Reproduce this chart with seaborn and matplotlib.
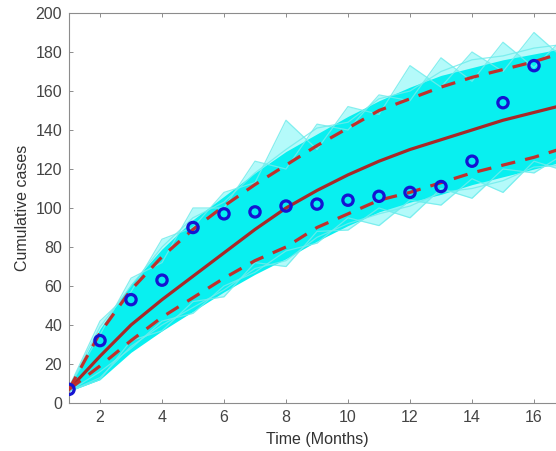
import matplotlib
matplotlib.use("Agg")
import matplotlib.pyplot as plt
import seaborn as sns

# months of the simulation
months = list(range(1, 18))

# observed cumulative cases (blue circles)
obs_months = list(range(1, 17))
observed = [7, 32, 53, 63, 90, 97, 98, 101, 102, 104, 106, 108, 111, 124, 154, 173]

# mean of simulations and 95% bounds
mean_fit = [7, 24, 40, 53, 65, 77, 89, 100, 109, 117, 124, 130, 135, 140, 145, 149, 153]
upper_ci = [7, 36, 58, 75, 89, 101, 112, 122, 132, 141, 150, 156, 162, 167, 171, 175, 180]
lower_ci = [7, 19, 32, 44, 54, 64, 73, 80, 90, 97, 104, 108, 113, 118, 122, 126, 131]

# dense body of simulated trajectories
body_hi = [8, 38, 61, 79, 94, 106, 118, 129, 138, 147, 155, 162, 168, 172, 176, 179, 182]
body_lo = [6, 12, 26, 37, 47, 57, 66, 74, 83, 91, 98, 103, 107, 112, 116, 120, 124]

# outer (zig-zag) simulated trajectories
sim_hi_a = [8, 35, 64, 72, 100, 100, 124, 120, 143, 140, 158, 155, 177, 165, 185, 172, 188]
sim_hi_b = [8, 42, 57, 84, 90, 108, 113, 145, 130, 152, 148, 173, 162, 180, 170, 190, 176]
sim_hi_c = [8, 39, 60, 80, 95, 103, 118, 130, 141, 144, 156, 160, 170, 176, 178, 182, 184]
sim_lo_a = [6, 16, 28, 42, 46, 60, 67, 78, 82, 95, 91, 104, 101.5, 115, 108, 124, 119]
sim_lo_b = [6, 12, 32, 37, 52, 54.5, 72, 70, 88, 88.7, 100, 95, 110, 105, 120, 118, 128]
sim_lo_c = [6, 13, 29, 40, 49, 58, 69, 73, 85, 92, 97, 101, 108, 110, 114, 121, 122]

sns.set_theme(style="ticks")
plt.rcParams["font.family"] = ["Liberation Sans", "DejaVu Sans"]

fig = plt.figure(figsize=(5.56, 4.51), dpi=100)
ax = fig.add_axes([69 / 556, 48 / 451, 496 / 556, 390 / 451])

cyan = "#08f0f0"
light_cyan = "#70ecec"

# simulated trajectories
ax.fill_between(months, sim_lo_a, sim_hi_a, color=cyan, alpha=0.3, lw=0, zorder=1)
ax.fill_between(months, sim_lo_b, sim_hi_b, color=cyan, alpha=0.3, lw=0, zorder=1)
ax.fill_between(months, body_lo, body_hi, color=cyan, lw=0, zorder=2)
for sim in [sim_hi_a, sim_hi_b, sim_hi_c, sim_lo_a, sim_lo_b, sim_lo_c]:
    sns.lineplot(x=months, y=sim, ax=ax, color=light_cyan, lw=0.9, alpha=0.85, zorder=2)

# mean and bounds
sns.lineplot(x=months, y=mean_fit, ax=ax, color="#a82828", lw=2.3, zorder=4)
for bound in [upper_ci, lower_ci]:
    sns.lineplot(x=months, y=bound, ax=ax, color="#c0302c", lw=2.3,
                 linestyle=(0, (4.5, 3.2)), zorder=4)

# observed data
sns.scatterplot(x=obs_months, y=observed, ax=ax, marker="o", s=55,
                facecolors="none", edgecolor="#1414d2", linewidth=2.3, zorder=5)

ax.set_xlim(1, 17)
ax.set_ylim(0, 200)
ax.set_xticks(range(2, 17, 2))
ax.set_yticks(range(0, 201, 20))
ax.set_xlabel("Time (Months)", fontsize=11.5, color="#333333", labelpad=5)
ax.set_ylabel("Cumulative cases", fontsize=11.5, color="#333333", labelpad=4)
ax.tick_params(direction="in", length=3, width=0.7, colors="#8c8c8c",
               labelcolor="#444444", labelsize=11.5, top=True, right=True, pad=5)
for side in ax.spines.values():
    side.set_color("#8c8c8c")
    side.set_linewidth(0.8)
    side.set_visible(True)

fig.savefig("out.png", dpi=100)
